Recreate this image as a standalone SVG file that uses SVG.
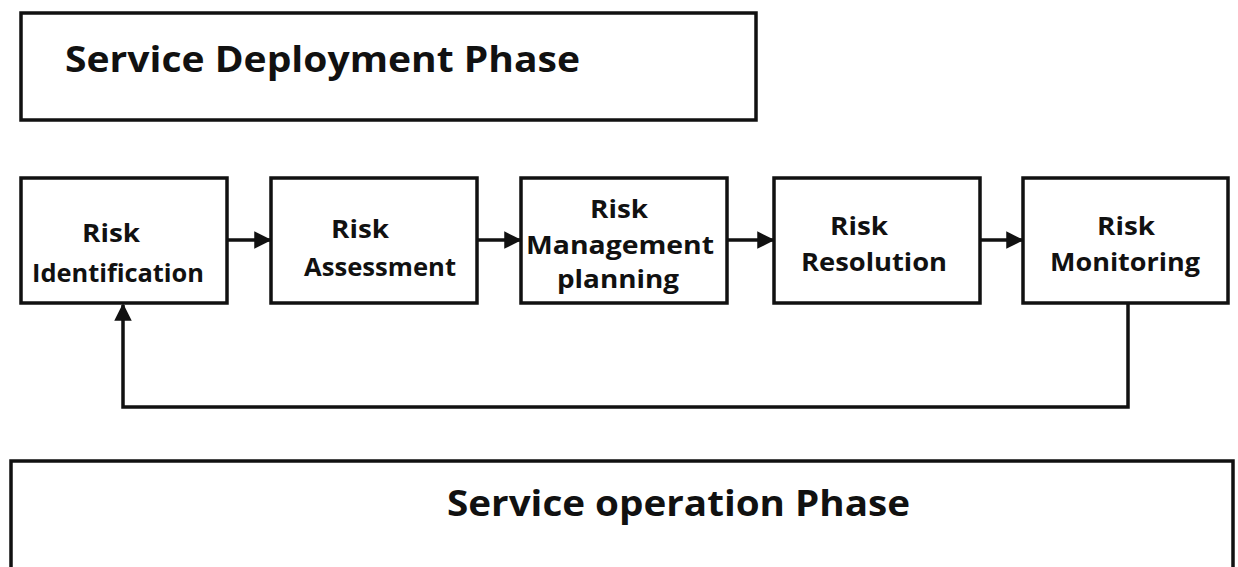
<svg xmlns="http://www.w3.org/2000/svg" width="1238" height="567" viewBox="0 0 1238 567">
  <style>
    .box { fill: #ffffff; stroke: #111111; stroke-width: 3.5; }
    .phase { font-family: "Open Sans", "Liberation Sans", sans-serif; font-weight: bold; font-size: 36px; fill: #111111; }
    .label { font-family: "Open Sans", "Liberation Sans", sans-serif; font-weight: bold; font-size: 25px; fill: #111111; text-anchor: middle; }
    .link { fill: none; stroke: #111111; stroke-width: 3.5; }
  </style>
  <defs>
    <marker id="arrow" markerWidth="5" markerHeight="5" refX="4.5" refY="2.5" orient="auto" markerUnits="strokeWidth">
      <path d="M0,0 L5,2.5 L0,5 Z" fill="#111111"/>
    </marker>
  </defs>
  <rect width="1238" height="567" fill="#ffffff"/>

  <g id="deployment-phase">
    <rect class="box" x="21" y="13" width="735" height="107"/>
    <text class="phase" x="65" y="72" textLength="515" lengthAdjust="spacingAndGlyphs">Service Deployment Phase</text>
  </g>

  <g id="risk-identification">
    <rect class="box" x="21" y="178" width="206" height="125"/>
    <text class="label" x="111" y="242" textLength="58" lengthAdjust="spacingAndGlyphs">Risk</text>
    <text class="label" x="118" y="282" textLength="172" lengthAdjust="spacingAndGlyphs">Identification</text>
  </g>

  <g id="risk-assessment">
    <rect class="box" x="271" y="178" width="206" height="125"/>
    <text class="label" x="360" y="238" textLength="58" lengthAdjust="spacingAndGlyphs">Risk</text>
    <text class="label" x="380" y="276" textLength="152" lengthAdjust="spacingAndGlyphs">Assessment</text>
  </g>

  <g id="risk-management-planning">
    <rect class="box" x="521" y="178" width="206" height="125"/>
    <text class="label" x="619" y="218" textLength="58" lengthAdjust="spacingAndGlyphs">Risk</text>
    <text class="label" x="620" y="254" textLength="188" lengthAdjust="spacingAndGlyphs">Management</text>
    <text class="label" x="618" y="288" textLength="122" lengthAdjust="spacingAndGlyphs">planning</text>
  </g>

  <g id="risk-resolution">
    <rect class="box" x="774" y="178" width="206" height="125"/>
    <text class="label" x="859" y="235" textLength="58" lengthAdjust="spacingAndGlyphs">Risk</text>
    <text class="label" x="874" y="271" textLength="146" lengthAdjust="spacingAndGlyphs">Resolution</text>
  </g>

  <g id="risk-monitoring">
    <rect class="box" x="1023" y="178" width="205" height="125"/>
    <text class="label" x="1126" y="235" textLength="58" lengthAdjust="spacingAndGlyphs">Risk</text>
    <text class="label" x="1125" y="271" textLength="150" lengthAdjust="spacingAndGlyphs">Monitoring</text>
  </g>

  <g id="connectors">
    <line class="link" x1="227" y1="240" x2="270" y2="240" marker-end="url(#arrow)"/>
    <line class="link" x1="477" y1="240" x2="520" y2="240" marker-end="url(#arrow)"/>
    <line class="link" x1="727" y1="240" x2="773" y2="240" marker-end="url(#arrow)"/>
    <line class="link" x1="980" y1="240" x2="1022" y2="240" marker-end="url(#arrow)"/>
    <polyline class="link" points="1128,303 1128,407 123,407 123,305" marker-end="url(#arrow)"/>
  </g>

  <g id="operation-phase">
    <rect class="box" x="11" y="461" width="1222" height="120"/>
    <text class="phase" x="447" y="516" textLength="463" lengthAdjust="spacingAndGlyphs">Service operation Phase</text>
  </g>
</svg>
